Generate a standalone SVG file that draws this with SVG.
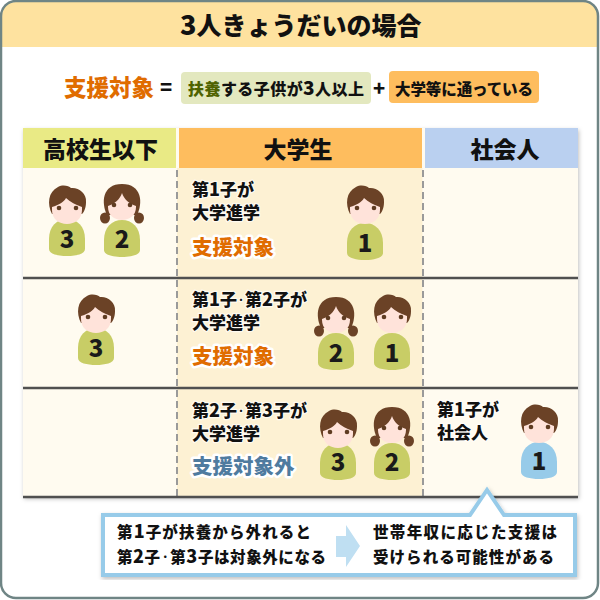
<svg xmlns="http://www.w3.org/2000/svg" width="600" height="600" viewBox="0 0 600 600">
<style>
text{font-family:"Noto Sans CJK JP","Noto Sans",sans-serif;font-weight:900;fill:#111}
.hd{font-size:23px;text-anchor:middle}
.s{font-size:17px;stroke:#fff;stroke-opacity:.7;stroke-width:2.500px;paint-order:stroke;stroke-linejoin:round}
.big{font-size:18px}
.dot{font-size:8px}
.st{font-size:20.500px;stroke:#fff;stroke-width:5px;paint-order:stroke;stroke-linejoin:round}
.org{fill:#e06c00}
.blu{fill:#4f7b9f}
.num{font-size:24px;text-anchor:middle;fill:#1a1a1a}
.cal{font-size:15.500px}
.hair{fill:#6b4226}
.face{fill:#ffe3da}
.eye{fill:#5f3c22}
.gbody{fill:#c8cd66}
.bbody{fill:#97cbe9}
.row{stroke:#505050;stroke-width:2.400;fill:none}
.dash{stroke:#9a9a9a;stroke-width:2;stroke-dasharray:7 4;fill:none}
</style>
<defs>
<filter id="sh" x="-5%" y="-5%" width="110%" height="110%"><feDropShadow dx="1" dy="2" stdDeviation="2" flood-color="#000" flood-opacity=".25"/></filter>
<path id="body" d="M-18 31C-18 18-10 11 0 11S18 18 18 31V41C18 46 9 48 0 48S-18 46-18 41Z"/>
<g id="boyHead">
<path class="hair" d="M-15 6C-20-4-19-16-9-21C-4-24 2-22 4-20C11-21 20-15 19-6C19 0 17 4 15 6Z"/>
<path class="face" d="M-15-1C-8-3-3-6-1-10C3-6 9-3 15-1V2C15 11 8 16 0 16S-15 11-15 2Z"/>
<circle class="eye" cx="-8" cy="0" r="2.300"/><circle class="eye" cx="9" cy="0" r="2.300"/>
</g>
<g id="girlHead">
<ellipse class="hair" cx="-17" cy="13" rx="5" ry="5.500"/><ellipse class="hair" cx="17" cy="13" rx="5" ry="5.500"/>
<path class="hair" d="M-15 10C-21-2-20-21 0-21S21-2 15 10Z"/>
<path class="face" d="M-14 1C-7-1-2-6 0-12C2-6 7-1 14 1V2C14 10 8 15 0 15S-14 10-14 2Z"/>
<circle class="eye" cx="-8" cy="0" r="2.300"/><circle class="eye" cx="8" cy="0" r="2.300"/>
</g>
</defs>
<rect x="0" y="0" width="600" height="600" fill="#fff"/>
<g id="frame">
<path d="M16 2H584Q598 2 598 16V47H2V16Q2 2 16 2Z" fill="#fee29f"/>
<rect x="1" y="1" width="597" height="597" rx="15" fill="none" stroke="#6f8585" stroke-width="2.500"/>
</g>
<text id="title" x="180" y="35" font-size="25"><tspan font-size="27">3</tspan>人きょうだいの場合</text>
<g id="formula">
<text x="64" y="96" font-size="22.500" class="org" textLength="90">支援対象</text>
<text x="160" y="95" font-size="20" fill="#222">=</text>
<rect x="181" y="72" width="190" height="32" rx="4" fill="#e3e8bf"/>
<text x="188" y="95" font-size="16" textLength="176"><tspan fill="#4f6300">扶養</tspan>する子供が<tspan font-size="19">3</tspan>人以上</text>
<text x="373" y="96" font-size="20">+</text>
<rect x="389" y="71" width="150" height="32" rx="4" fill="#febd5e"/>
<text x="395" y="95" font-size="15.500" textLength="138">大学等に通っている</text>
</g>
<g id="table">
<rect x="23" y="128" width="555" height="369" fill="#fffbf0" filter="url(#sh)"/>
<rect x="177" y="168" width="245.500" height="329" fill="#fdf1d3"/>
<g id="col1"><rect x="23" y="128" width="153" height="40" fill="#e9ea85"/><text class="hd" x="100.500" y="158">高校生以下</text></g>
<g id="col2"><rect x="179" y="128" width="243" height="40" fill="#febd5e"/><text class="hd" x="298" y="158">大学生</text></g>
<g id="col3"><rect x="425" y="128" width="153" height="40" fill="#bad0f0"/><text class="hd" x="505" y="158">社会人</text></g>
<path class="dash" d="M177 170V497M423 170V497"/>
<path class="row" d="M23 278H578M23 388H578M23 497H578"/>
</g>
<g id="row1-text">
<text class="s" x="192" y="196">第<tspan class="big">1</tspan>子が</text>
<text class="s" x="192" y="219">大学進学</text>
<text class="st org" x="192" y="255">支援対象</text>
</g>
<g id="row2-text">
<text class="s" x="192" y="306">第<tspan class="big">1</tspan>子<tspan class="dot" dy="-3">・</tspan><tspan dy="3">第</tspan><tspan class="big">2</tspan>子が</text>
<text class="s" x="192" y="329">大学進学</text>
<text class="st org" x="192" y="364">支援対象</text>
</g>
<g id="row3-text">
<text class="s" x="192" y="417">第<tspan class="big">2</tspan>子<tspan class="dot" dy="-3">・</tspan><tspan dy="3">第</tspan><tspan class="big">3</tspan>子が</text>
<text class="s" x="192" y="440">大学進学</text>
<text class="st blu" x="192" y="474">支援対象外</text>
</g>
<g id="row3-col3-text">
<text class="s" x="437" y="416">第<tspan class="big">1</tspan>子が</text>
<text class="s" x="437" y="439">社会人</text>
</g>
<g id="p1" transform="translate(67 208)"><use href="#body" class="gbody"/><use href="#boyHead"/><text class="num" y="40">3</text></g>
<g id="p2" transform="translate(122 205)"><use href="#body" class="gbody" y="4"/><use href="#girlHead"/><text class="num" y="43">2</text></g>
<g id="p3" transform="translate(365 208)"><use href="#body" class="gbody" y="4"/><use href="#boyHead"/><text class="num" y="44">1</text></g>
<g id="p4" transform="translate(96 317)"><use href="#body" class="gbody"/><use href="#boyHead"/><text class="num" y="40">3</text></g>
<g id="p5" transform="translate(336 318)"><use href="#body" class="gbody" y="4"/><use href="#girlHead"/><text class="num" y="44">2</text></g>
<g id="p6" transform="translate(392 317)"><use href="#body" class="gbody" y="5"/><use href="#boyHead"/><text class="num" y="45">1</text></g>
<g id="p7" transform="translate(338 432)"><use href="#body" class="gbody"/><use href="#boyHead"/><text class="num" y="39">3</text></g>
<g id="p8" transform="translate(392 428)"><use href="#body" class="gbody" y="4"/><use href="#girlHead"/><text class="num" y="43">2</text></g>
<g id="p9" transform="translate(539 427)"><use href="#body" class="bbody" y="4"/><use href="#boyHead"/><text class="num" y="43">1</text></g>
<g id="callout">
<path d="M103 515H470L487 490L504 515H575V575H103Z" fill="#fff" stroke="#97cbe9" stroke-width="4" filter="url(#sh)"/>
<path d="M336 536H346V525L360 546L346 567V557H336Z" fill="#bfdff2"/>
<text class="cal" x="117" y="538" textLength="194">第<tspan font-size="18">1</tspan>子が扶養から外れると</text>
<text class="cal" x="117" y="563" textLength="209">第<tspan font-size="18">2</tspan>子<tspan font-size="9" dy="-3">・</tspan><tspan dy="3">第</tspan><tspan font-size="18">3</tspan>子は対象外になる</text>
<text class="cal" x="373" y="538" textLength="184">世帯年収に応じた支援は</text>
<text class="cal" x="373" y="563" textLength="181">受けられる可能性がある</text>
</g>
</svg>
